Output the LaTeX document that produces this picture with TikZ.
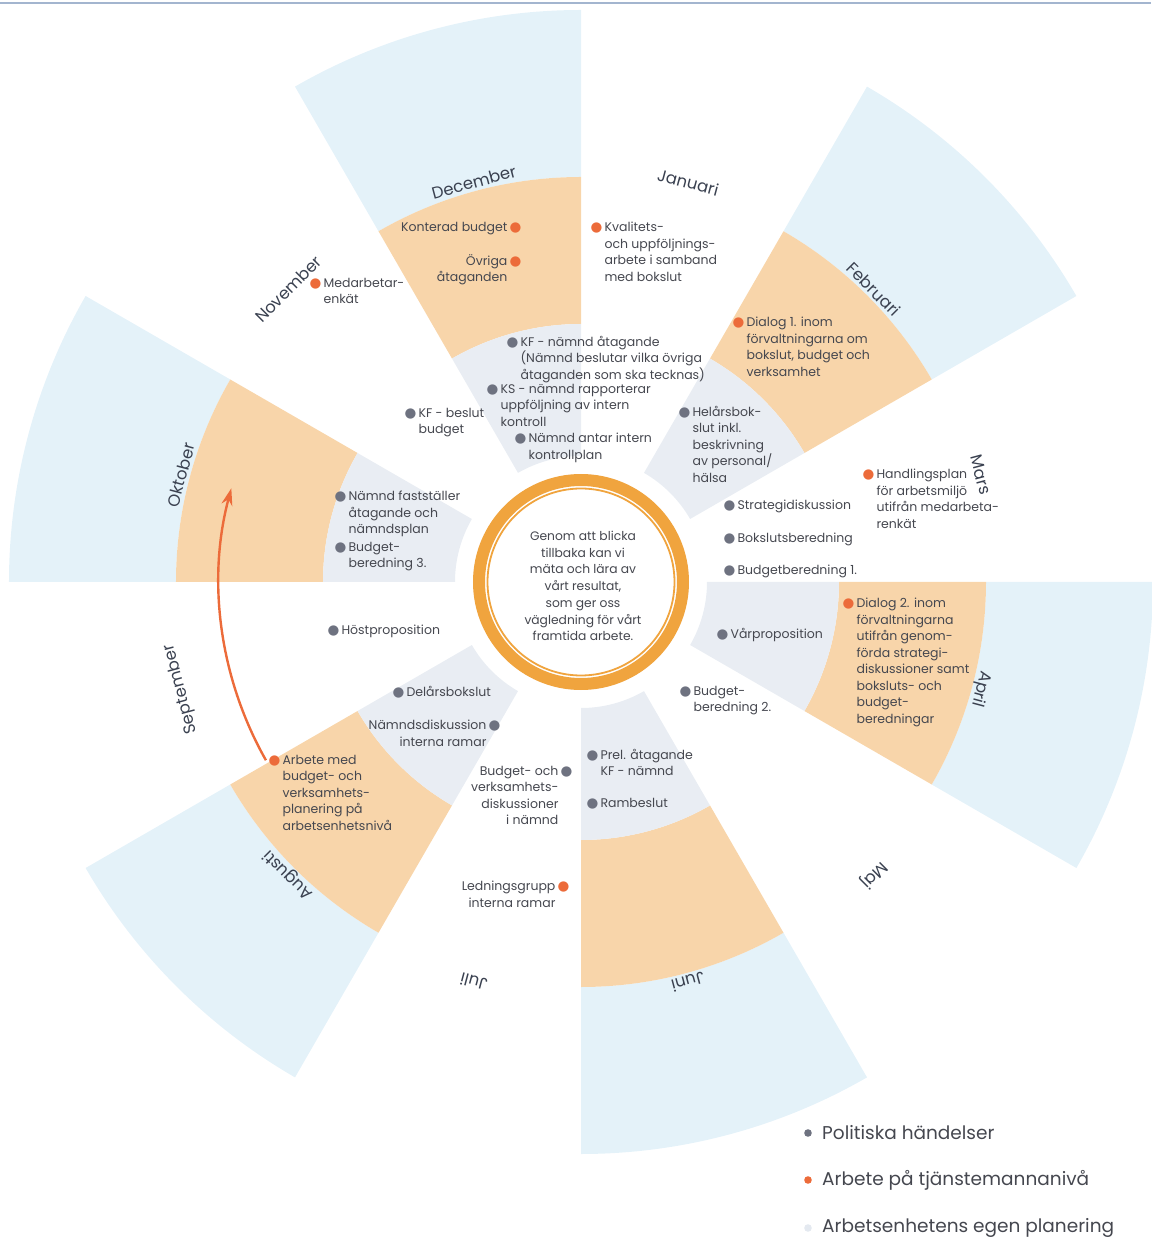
\documentclass[tikz,border=0pt]{standalone}
\usepackage{fontspec}
\setmainfont{Poppins}
\newfontfamily\dotfont{DejaVu Sans}
\usetikzlibrary{arrows.meta}
\definecolor{bandblue}{HTML}{E4F2F9}
\definecolor{bandorange}{HTML}{F8D5AA}
\definecolor{bandgray}{HTML}{E9EDF3}
\definecolor{ringorange}{HTML}{F0A43E}
\definecolor{dotgray}{HTML}{6E7280}
\definecolor{dotorange}{HTML}{EC6B3A}
\definecolor{textgray}{HTML}{45474F}
\definecolor{monthtext}{HTML}{3A4150}
\definecolor{paledot}{HTML}{E4E9F0}
\definecolor{topline}{HTML}{A3B5CF}
\newcommand{\poldot}{{\dotfont\fontsize{13.5}{16.5}\selectfont\color{dotgray}●}}
\newcommand{\tjdot}{{\dotfont\fontsize{13.5}{16.5}\selectfont\color{dotorange}●}}
\newcommand{\gap}{\phantom{\poldot\,}}
\begin{document}
\begin{tikzpicture}[x=1pt,y=1pt,
  evt/.style={font=\fontsize{12.5}{16.5}\selectfont, text=textgray, inner sep=0pt, align=left, anchor=north west},
  evtr/.style={evt, align=right, anchor=north east},
  month/.style={font=\fontsize{16.5}{18}\selectfont, text=monthtext, inner sep=0pt},
  legend/.style={font=\fontsize{18.5}{20}\selectfont, text=textgray, inner sep=0pt, anchor=west}]
\useasboundingbox (-581,-659) rectangle (570,582);
\draw[topline, line width=1.2pt] (-581,579) -- (570,579);

\foreach \a in {30,90,150,210,270,330}{
  \fill[bandblue] (\a:405) -- (\a:572) arc[start angle=\a, delta angle=30, radius=572]
    -- ({\a+30}:405) arc[start angle=\a+30, delta angle=-30, radius=405] -- cycle;
  \fill[bandorange] (\a:258) -- (\a:405) arc[start angle=\a, delta angle=30, radius=405]
    -- ({\a+30}:258) arc[start angle=\a+30, delta angle=-30, radius=258] -- cycle;
  \fill[bandgray] (\a:126) -- (\a:258) arc[start angle=\a, delta angle=30, radius=258]
    -- ({\a+30}:126) arc[start angle=\a+30, delta angle=-30, radius=126] -- cycle;
}

\fill[white] (0,0) circle (108);
\draw[ringorange, line width=12pt] (0,0) circle (102);
\draw[ringorange, line width=1.8pt] (0,0) circle (93.5);
\node[evt, font=\fontsize{12.3}{16.7}\selectfont, align=center, anchor=center] (core) at (2,-4)
  {Genom att blicka\\tillbaka kan vi\\mäta och lära av\\vårt resultat,\\som ger oss\\vägledning för vårt\\framtida arbete.};

\foreach \m/\a in {Januari/75, Februari/45, Mars/15, April/-15, Maj/-45, Juni/-75, Juli/-105,
  Augusti/-135, September/-165, Oktober/165, November/135, December/105}
  \node[month, rotate=\a-90] (m\m) at (\a:414) {\m};

\node[evtr] (konterad) at (-59.5,360) {Konterad budget\,\tjdot};
\node[evtr] (ovriga) at (-59.5,328) {Övriga\,\tjdot\\åtaganden\gap};
\node[evt] (kvalitet) at (9.5,360) {\tjdot\,Kvalitets-\\\gap och uppföljnings-\\\gap arbete i samband\\\gap med bokslut};
\node[evt] (medarb) at (-271.5,304) {\tjdot\,Medarbetar-\\\gap enkät};
\node[evt] (dialog1) at (151.5,265) {\tjdot\,Dialog 1. inom\\\gap förvaltningarna om\\\gap bokslut, budget och\\\gap verksamhet};
\node[evt] (kfnamnd) at (-74.5,246) {\poldot\,KF - nämnd åtagande\\\gap (Nämnd beslutar vilka övriga\\\gap åtaganden som ska tecknas)};
\node[evt] (ksnamnd) at (-94.5,198) {\poldot\,KS - nämnd rapporterar\\\gap uppföljning av intern\\\gap kontroll};
\node[evt] (antar) at (-66.5,149) {\poldot\,Nämnd antar intern\\\gap kontrollplan};
\node[evt] (kfbeslut) at (-176.5,174) {\poldot\,KF - beslut\\\gap budget};
\node[evt] (helars) at (97.5,176) {\poldot\,Helårsbok-\\\gap slut inkl.\\\gap beskrivning\\\gap av personal/\\\gap hälsa};
\node[evt] (strategi) at (142.5,82) {\poldot\,Strategidiskussion};
\node[evt] (boksluts) at (142.5,49) {\poldot\,Bokslutsberedning};
\node[evt] (budget1) at (142.5,17) {\poldot\,Budgetberedning 1.};
\node[evt] (handling) at (281.5,113) {\tjdot\,Handlingsplan\\\gap för arbetsmiljö\\\gap utifrån medarbeta-\\\gap renkät};
\node[evt] (dialog2) at (261.5,-16) {\tjdot\,Dialog 2. inom\\\gap förvaltningarna\\\gap utifrån genom-\\\gap förda strategi-\\\gap diskussioner samt\\\gap boksluts- och\\\gap budget-\\\gap beredningar};
\node[evt] (varprop) at (135.5,-46) {\poldot\,Vårproposition};
\node[evt] (budget2) at (98.5,-104) {\poldot\,Budget-\\\gap beredning 2.};
\node[evt] (prel) at (5.5,-167) {\poldot\,Prel. åtagande\\\gap KF - nämnd};
\node[evt] (rambeslut) at (5.5,-216) {\poldot\,Rambeslut};
\node[evtr] (budgetoch) at (-8.5,-184) {Budget- och\,\poldot\\verksamhets-\gap\\diskussioner\gap\\i nämnd\gap};
\node[evtr] (lednings) at (-11.5,-299) {Ledningsgrupp\,\tjdot\\interna ramar\gap};
\node[evt] (delars) at (-188.5,-104) {\poldot\,Delårsbokslut};
\node[evtr] (namndsdisk) at (-80.5,-138) {Nämndsdiskussion\,\poldot\\interna ramar\gap};
\node[evt] (arbete) at (-312.5,-173) {\tjdot\,Arbete med\\\gap budget- och\\\gap verksamhets-\\\gap planering på\\\gap arbetsenhetsnivå};
\node[evt] (host) at (-253.5,-43) {\poldot\,Höstproposition};
\node[evt] (faststaller) at (-246.5,91) {\poldot\,Nämnd fastställer\\\gap åtagande och\\\gap nämndsplan};
\node[evt] (budget3) at (-246.5,40) {\poldot\,Budget-\\\gap beredning 3.};

\coordinate (arcstart) at (209.5:362);
\draw[dotorange, line width=2.4pt, -{Stealth[length=17pt,width=11pt]}]
  (arcstart) arc[start angle=209.5, end angle=165, radius=362];

\node[legend] (leg1) at (241,-551) {Politiska händelser};
\node[legend] (leg2) at (241,-598) {Arbete på tjänstemannanivå};
\node[legend] (leg3) at (241,-646) {Arbetsenhetens egen planering};
\fill[dotgray] ([xshift=-14pt]leg1.west) circle (3.8);
\fill[dotorange] ([xshift=-14pt]leg2.west) circle (3.8);
\fill[paledot] ([xshift=-14pt]leg3.west) circle (3.8);
\end{tikzpicture}
\end{document}
